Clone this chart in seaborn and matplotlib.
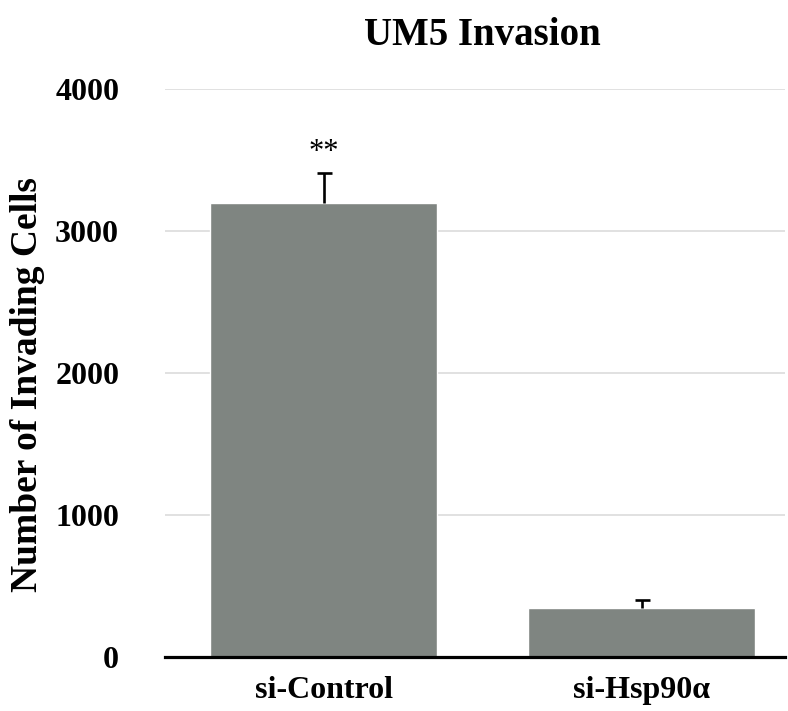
import matplotlib
matplotlib.use("Agg")
import matplotlib.pyplot as plt
import seaborn as sns
import pandas as pd
import numpy as np

categories = ["si-Control", "si-Hsp90\u03b1"]
values = [3200, 345]
errors = [205, 55]
yticks = [0, 1000, 2000, 3000, 4000]
title = "UM5 Invasion"
ylabel = "Number of Invading Cells"
annotation = "**"

sns.set_theme(style="white")
plt.rcParams['font.family'] = ['Liberation Serif', 'DejaVu Serif']
plt.rcParams['text.color'] = 'black'
plt.rcParams['xtick.color'] = 'black'
plt.rcParams['ytick.color'] = 'black'
plt.rcParams['axes.labelcolor'] = 'black'

df = pd.DataFrame({"group": categories, "count": values})

fig = plt.figure(figsize=(7.88, 7.11), dpi=100)
ax = fig.add_axes([165/788, (711-657)/711, (785-165)/788, (657-89)/711])

sns.barplot(data=df, x="group", y="count", color="#7F8581", saturation=1,
            width=0.714, errorbar=None, ax=ax, zorder=3)
eb = ax.errorbar(range(len(values)), values, yerr=[[0]*len(errors), errors],
                 fmt="none", ecolor="black", elinewidth=1.9, capsize=5.4,
                 capthick=1.9, zorder=4)
for cl in eb[1]:
    yd = np.asarray(cl.get_ydata(), dtype=float)
    if np.allclose(yd, values):
        cl.set_visible(False)

ax.annotate(annotation, xy=(0, values[0] + errors[0]), xytext=(0, 5),
            textcoords="offset points", ha="center", va="bottom",
            fontsize=22, color="black")

ax.set_xlim(-0.5, 1.45)
ax.set_ylim(0, 4000)
ax.set_yticks(yticks)
ax.set_yticklabels([str(t) for t in yticks], fontsize=23, fontweight="bold")
ax.set_xticks(range(len(categories)))
ax.set_xticklabels(categories, fontsize=23, fontweight="bold")
ax.tick_params(axis="y", length=0, pad=33)
ax.tick_params(axis="x", length=0, pad=14)
ax.set_xlabel("")
ax.set_ylabel("")
fig.text(28/788, 1 - 385/711, ylabel, rotation=90, ha="center", va="center",
         fontsize=27, fontweight="bold", color="black")
ax.set_title(title, fontsize=28, fontweight="bold", pad=32, color="black",
             x=0.5 + 7/620)

ax.yaxis.grid(True, color="#D9D9D9", linewidth=1.1, zorder=0)
ax.set_axisbelow(True)
for s in ["left", "right", "top"]:
    ax.spines[s].set_visible(False)
ax.spines["bottom"].set_color("black")
ax.spines["bottom"].set_linewidth(2.3)
ax.spines["bottom"].set_zorder(5)

fig.savefig("out.png", dpi=100)
